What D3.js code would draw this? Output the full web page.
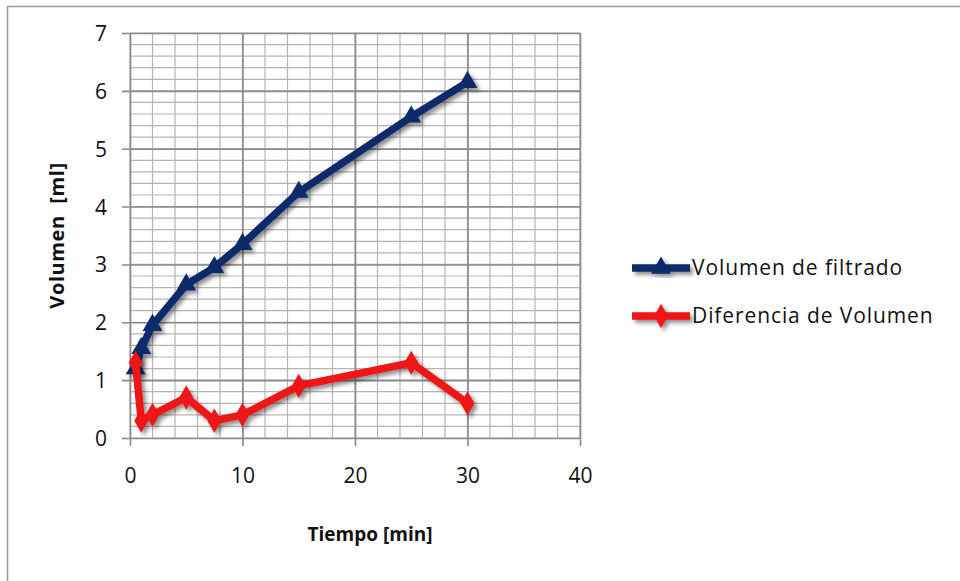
<!DOCTYPE html>
<html>
<head>
<meta charset="utf-8">
<script src="https://cdn.jsdelivr.net/npm/d3@7"></script>
<style>
  html, body { margin: 0; padding: 0; background: #fff; }
  svg { display: block; }
  text { font-family: "Open Sans", "Noto Sans", sans-serif; fill: #111; }
</style>
</head>
<body>
<svg id="chart" width="960" height="581"></svg>
<script>
// Elapsed time in minutes
const tiempo = [0.5, 1, 2, 5, 7.5, 10, 15, 25, 30];
// Accumulated filtrate volume (ml)
const volumenFiltrado = [1.2, 1.55, 1.95, 2.65, 2.95, 3.35, 4.25, 5.55, 6.15];
// Volume increment between consecutive readings (ml)
const diferenciaVolumen = [1.3, 0.3, 0.4, 0.7, 0.3, 0.4, 0.9, 1.3, 0.6];
const xTicks = [0, 10, 20, 30, 40];
const yTicks = [0, 1, 2, 3, 4, 5, 6, 7];
const seriesNames = ["Volumen de filtrado", "Diferencia de Volumen"];

const svg = d3.select("#chart");
const W = 960, H = 581;
const plot = { left: 130, right: 580, top: 33, bottom: 438 };

svg.append("rect").attr("x", 0).attr("y", 0).attr("width", W).attr("height", H).attr("fill", "#fff");
// outer chart frame
svg.append("rect").attr("x", 7.5).attr("y", 6.5).attr("width", 960).attr("height", 600)
  .attr("fill", "none").attr("stroke", "#9a9a9a").attr("stroke-width", 1.5);

const x = d3.scaleLinear().domain([0, 40]).range([plot.left, plot.right]);
const y = d3.scaleLinear().domain([0, 7]).range([plot.bottom, plot.top]);

const defs = svg.append("defs");
const f = defs.append("filter").attr("id", "shadow").attr("x", "-20%").attr("y", "-20%").attr("width", "140%").attr("height", "140%");
f.append("feDropShadow").attr("dx", 3).attr("dy", 3).attr("stdDeviation", 2.2)
  .attr("flood-color", "#000").attr("flood-opacity", 0.45);

const g = svg.append("g");

// minor gridlines
const xMinor = d3.range(0, 40.001, 2);
const yMinor = d3.range(0, 7.001, 0.2);
g.append("g").selectAll("line").data(xMinor).join("line")
  .attr("x1", d => x(d)).attr("x2", d => x(d))
  .attr("y1", plot.top).attr("y2", plot.bottom)
  .attr("stroke", "#b5b5b5").attr("stroke-width", 1.2);
g.append("g").selectAll("line").data(yMinor).join("line")
  .attr("y1", d => y(d)).attr("y2", d => y(d))
  .attr("x1", plot.left).attr("x2", plot.right)
  .attr("stroke", "#b5b5b5").attr("stroke-width", 1.2);

// major gridlines via axes
const yAxis = d3.axisLeft(y).tickValues(yTicks).tickSize(-(plot.right - plot.left)).tickPadding(23).tickFormat(d3.format("d"));
const yG = g.append("g").attr("transform", `translate(${plot.left},0)`).call(yAxis);
yG.select(".domain").remove();
yG.selectAll(".tick line").attr("stroke", "#8a8a8a").attr("stroke-width", 1.6).attr("x1", -8);
yG.selectAll(".tick text").attr("font-size", 21).attr("fill", "#111").attr("dy", "0.36em");

const xAxis = d3.axisBottom(x).tickValues(xTicks).tickSize(-(plot.bottom - plot.top)).tickPadding(30).tickFormat(d3.format("d"));
const xG = g.append("g").attr("transform", `translate(0,${plot.bottom})`).call(xAxis);
xG.select(".domain").remove();
xG.selectAll(".tick line").attr("stroke", "#8a8a8a").attr("stroke-width", 1.6).attr("y1", 8);
xG.selectAll(".tick text").attr("font-size", 21).attr("fill", "#111");

// axis titles
svg.append("text").attr("transform", `translate(64,${(plot.top + plot.bottom) / 2}) rotate(-90)`)
  .attr("text-anchor", "middle").attr("font-size", 20).attr("font-weight", "bold")
  .attr("letter-spacing", 0.6).text("Volumen\u00a0\u00a0[ml]");
svg.append("text").attr("x", 370).attr("y", 541)
  .attr("text-anchor", "middle").attr("font-size", 19).attr("font-weight", "bold").text("Tiempo [min]");

const colors = ["#11296b", "#ee1313"];
const datasets = [volumenFiltrado, diferenciaVolumen];
const triangle = d3.symbol().type(d3.symbolTriangle).size(170);
const diamond = d3.symbol().type(d3.symbolDiamond).size(170);
const symbols = [triangle, diamond];

const line = d3.line().x(d => x(d[0])).y(d => y(d[1]));

datasets.forEach((vals, i) => {
  const pts = tiempo.map((t, k) => [t, vals[k]]);
  const s = svg.append("g").attr("filter", "url(#shadow)");
  s.append("path").datum(pts).attr("d", line)
    .attr("fill", "none").attr("stroke", colors[i]).attr("stroke-width", 7.5)
    .attr("stroke-linejoin", "miter").attr("stroke-linecap", "butt");
  s.selectAll(".m").data(pts).join("path")
    .attr("transform", d => `translate(${x(d[0])},${y(d[1])})`)
    .attr("d", symbols[i]).attr("fill", colors[i]);
});

// legend
const legend = svg.append("g");
[268, 316].forEach((ly, i) => {
  const lg = legend.append("g").attr("filter", "url(#shadow)");
  lg.append("line").attr("x1", 632).attr("x2", 690).attr("y1", ly).attr("y2", ly)
    .attr("stroke", colors[i]).attr("stroke-width", 7.5);
  lg.append("path").attr("transform", `translate(661,${ly})`).attr("d", symbols[i]).attr("fill", colors[i]);
  legend.append("text").attr("x", 692).attr("y", ly).attr("dy", "0.35em")
    .attr("font-size", 21).attr("letter-spacing", 0.9).text(seriesNames[i]);
});
</script>
</body>
</html>
